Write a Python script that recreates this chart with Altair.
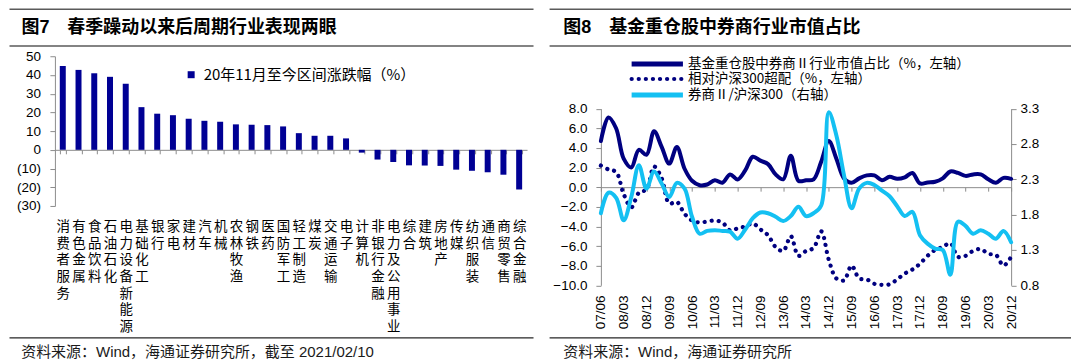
import altair as alt
import pandas as pd

GRAY = "#8c8c8c"
LINE_GRAY = "#5a5a5a"
FONT = "Liberation Sans, Noto Sans CJK SC, sans-serif"
CJK = "Noto Sans CJK SC, Liberation Sans, sans-serif"
BAR_BLUE = "#000094"
NAVY = "#000080"
CYAN = "#14C0F2"

# ---------------- Figure 7 data ----------------
industries = ["消费者服务", "有色金属", "食品饮料", "石油石化", "电力设备新能源", "基础化工",
              "银行", "家电", "建材", "汽车", "机械", "农林牧渔", "钢铁", "医药", "国防军工",
              "轻工制造", "煤炭", "交通运输", "电子", "计算机", "非银行金融", "电力及公用事业",
              "综合", "建筑", "房地产", "传媒", "纺织服装", "通信", "商贸零售", "综合金融"]
change_pct = [44.8, 42.7, 40.9, 39.0, 35.3, 22.8, 19.3, 18.5, 16.6, 15.5, 15.0, 13.6, 13.4,
              13.2, 12.5, 8.9, 7.5, 7.5, 6.1, -1.5, -5.2, -6.5, -8.3, -8.4, -8.6, -10.6,
              -11.2, -12.0, -13.3, -21.2]
bar_series = "20年11月至今区间涨跌幅（%）"
pct_ticks = [-30, -20, -10, 0, 10, 20, 30, 40, 50]
title7 = "图7\u3000春季躁动以来后周期行业表现两眼"
source7 = "资料来源：Wind，海通证券研究所，截至 2021/02/10"

# ---------------- Figure 8 data ----------------
quarters = ["07/06", "07/09", "07/12",
            "08/03", "08/06", "08/09", "08/12",
            "09/03", "09/06", "09/09", "09/12",
            "10/03", "10/06", "10/09", "10/12",
            "11/03", "11/06", "11/09", "11/12",
            "12/03", "12/06", "12/09", "12/12",
            "13/03", "13/06", "13/09", "13/12",
            "14/03", "14/06", "14/09", "14/12",
            "15/03", "15/06", "15/09", "15/12",
            "16/03", "16/06", "16/09", "16/12",
            "17/03", "17/06", "17/09", "17/12",
            "18/03", "18/06", "18/09", "18/12",
            "19/03", "19/06", "19/09", "19/12",
            "20/03", "20/06", "20/09", "20/12"]
broker_share = [4.7, 7.1, 6.0, 2.9, 2.0, 3.8, 3.3, 5.7, 4.1, 2.4, 4.1, 1.9, 0.65, 0.2, 0.27,
                0.7, 0.45, 1.3, 0.78, 1.7, 3.1, 2.7, 2.35, 1.3, 0.8, 3.2, 0.65, 0.7, 0.8, 2.6,
                4.7, 2.9, 0.9, 0.45, 0.9, 1.2, 1.2, 0.7, 1.05, 0.85, 1.0, 1.45, 0.38, 0.48,
                0.55, 0.9, 1.6, 1.45, 1.15, 1.3, 1.3, 0.8, 0.45, 0.95, 0.85]
overweight = [2.2, 1.8, 1.55, -0.7, -2.06, -0.57, -0.23, 2.1, 0.9, -1.66, -1.5, -2.7, -3.4,
              -3.6, -3.5, -3.4, -3.6, -4.4, -4.2, -4.0, -3.7, -4.3, -4.9, -6.1, -6.5, -5.0,
              -7.0, -6.5, -6.2, -4.5, -7.4, -9.3, -9.5, -8.0, -9.3, -9.4, -9.85, -9.95, -9.9,
              -9.4, -8.8, -8.4, -7.8, -7.0, -6.4, -6.1, -5.7, -7.1, -7.0, -6.5, -6.3, -6.8,
              -6.9, -8.0, -7.1]
broker_vs_hs300 = [1.82, 2.11, 2.04, 1.72, 2.05, 2.5, 2.17, 2.41, 2.24, 2.05, 2.25, 2.17, 1.77,
                   1.53, 1.57, 1.58, 1.57, 1.56, 1.46, 1.59, 1.75, 1.83, 1.82, 1.77, 1.71, 1.78,
                   1.91, 1.78, 1.82, 1.93, 3.25, 2.92, 2.36, 1.89, 2.17, 2.25, 2.22, 2.14, 2.06,
                   1.92, 1.78, 1.84, 1.51, 1.39, 1.32, 1.30, 0.95, 1.70, 1.64, 1.53, 1.58, 1.53,
                   1.46, 1.57, 1.41]
series_names = ["基金重仓股中券商Ⅱ行业市值占比（%，左轴）", "相对沪深300超配（%，左轴）",
                "券商Ⅱ/沪深300（右轴）"]
share_ticks = [-10, -8, -6, -4, -2, 0, 2, 4, 6, 8]
ratio_ticks = [0.8, 1.3, 1.8, 2.3, 2.8, 3.3]
quarter_ticks = list(range(0, len(quarters), 3))
title8 = "图8\u3000基金重仓股中券商行业市值占比"
source8 = "资料来源：Wind，海通证券研究所"

one = pd.DataFrame({"k": [0]})


def rule(x1, x2, y, color=LINE_GRAY, width=1.5, dash=None, cap="butt"):
    kw = dict(color=color, strokeWidth=width, strokeCap=cap)
    if dash is not None:
        kw["strokeDash"] = dash
    return alt.Chart(one).mark_rule(**kw).encode(
        x=alt.value(x1), x2=alt.value(x2), y=alt.value(y))


def text(t, x, y, size, weight="normal", font=FONT, color="#000000"):
    return alt.Chart(pd.DataFrame({"t": [t]})).mark_text(
        align="left", baseline="middle", fontSize=size, fontWeight=weight,
        font=font, color=color).encode(x=alt.value(x), y=alt.value(y), text="t:N")


# ---------------- left panel ----------------
W1, H1 = 473, 150
zero1 = H1 * 50 / 80
bar_df = pd.DataFrame({"industry": industries, "pct": change_pct, "series": bar_series})
bars = alt.Chart(bar_df).mark_bar().encode(
    x=alt.X("industry:N", sort=industries, title=None,
            scale=alt.Scale(paddingInner=0.62, paddingOuter=0.31),
            axis=alt.Axis(orient="bottom", offset=-(H1 - zero1), tickBand="extent", tickSize=4,
                          labelAngle=0, labelExpr="split(datum.label, '')", labelFont=CJK,
                          labelFontSize=13.5, labelLineHeight=16.7, labelPadding=66,
                          labelOverlap=False, labelBound=False, labelFlush=False,
                          labelBaseline="top", labelAlign="center")),
    y=alt.Y("pct:Q", title=None, scale=alt.Scale(domain=[-30, 50], nice=False, zero=False),
            axis=alt.Axis(values=pct_ticks, tickSize=5, labelPadding=9.5,
                          labelExpr="datum.value < 0 ? '(' + abs(datum.value) + ')' : datum.label")),
    color=alt.Color("series:N", scale=alt.Scale(domain=[bar_series], range=[BAR_BLUE]),
                    legend=alt.Legend(orient="none", legendX=129, legendY=11, title=None,
                                      symbolType="square", symbolSize=49, symbolStrokeWidth=0,
                                      labelFont=CJK, labelFontSize=15, labelOffset=5,
                                      labelLimit=0, padding=0)),
)

left = alt.layer(
    bars,
    rule(-45.5, 479.5, -47.2),
    rule(-45.5, 479.5, -10.2),
    text(title7, -33.5, -28.5, 18, "bold"),
    rule(-45.5, 479.5, 282.2, color="#262626", width=1.2),
    text(source7, -33.8, 296.2, 15, font=FONT, color="#1a1a1a"),
).properties(width=W1, height=H1)

# ---------------- right panel ----------------
# the view starts at the same page height as the left one; the data area is the lower part
TOP2 = 52.5
W2, H2 = 411, 229.5
zero2 = TOP2 + (H2 - TOP2) * 8 / 18
q = list(range(len(quarters)))
xq = alt.X("q:Q", title=None, scale=alt.Scale(domain=[0, len(quarters) - 1], nice=False, zero=False),
           axis=alt.Axis(values=quarter_ticks, labelExpr=f"{quarters}[datum.value]",
                         orient="bottom", offset=-(H2 - zero2), tickSize=4, labelAngle=270,
                         labelPadding=104, labelOverlap=False, labelBound=False, labelFlush=False))
y_left = alt.Y("v:Q", title=None,
               scale=alt.Scale(domain=[-10, 8], nice=False, zero=False, range=[H2, TOP2]),
               axis=alt.Axis(values=share_ticks, format=".1f", orient="left", tickSize=5,
                             labelPadding=9))
y_right = alt.Y("v:Q", title=None,
                scale=alt.Scale(domain=[0.8, 3.3], nice=False, zero=False, range=[H2, TOP2]),
                axis=alt.Axis(values=ratio_ticks, format=".1f", orient="right", tickSize=5,
                              labelPadding=4))

dark = alt.Chart(pd.DataFrame({"q": q, "v": broker_share})).mark_line(
    color=NAVY, strokeWidth=4, interpolate="catmull-rom", strokeCap="round",
    strokeJoin="round").encode(x=xq, y=y_left)
dots = alt.Chart(pd.DataFrame({"q": q, "v": overweight})).mark_line(
    color=NAVY, strokeWidth=4.2, interpolate="catmull-rom", strokeCap="round",
    strokeDash=[0.1, 7]).encode(x=xq, y=y_left)
light = alt.Chart(pd.DataFrame({"q": q, "v": broker_vs_hs300})).mark_line(
    color=CYAN, strokeWidth=4, interpolate="catmull-rom", strokeCap="round",
    strokeJoin="round").encode(x=xq, y=y_right)

d = TOP2
right = alt.layer(
    alt.layer(dark, dots),
    light,
    rule(-51.4, 471, -99.7 + d),
    rule(-51.4, 471, -62.7 + d),
    text(title8, -37.7, -81 + d, 18, "bold"),
    rule(30.8, 82.2, -44.7 + d, color=NAVY, width=5),
    rule(30.8, 82.2, -29.7 + d, color=NAVY, width=4.2, dash=[0.1, 7], cap="round"),
    rule(30.8, 82.2, -13.7 + d, color=CYAN, width=5),
    text(series_names[0], 87.3, -44.7 + d, 13.5, font=CJK),
    text(series_names[1], 87.3, -29.7 + d, 13.5, font=CJK),
    text(series_names[2], 87.3, -13.7 + d, 13.5, font=CJK),
    rule(-51.4, 471, 229.7 + d, color="#262626", width=1.2),
    text(source8, -37.7, 243.7 + d, 15, font=FONT, color="#1a1a1a"),
).resolve_scale(y="independent").properties(width=W2, height=H2)

chart = alt.hconcat(left, right, spacing=13).properties(
    padding=0, background="white"
).configure_view(stroke=None).configure_axis(
    grid=False, domainColor=GRAY, tickColor=GRAY, domainWidth=1, tickWidth=1,
    labelColor="#000000", labelFont=FONT, labelFontSize=13.5
)

chart.save("out.html", embed_options={"renderer": "svg", "actions": False})
